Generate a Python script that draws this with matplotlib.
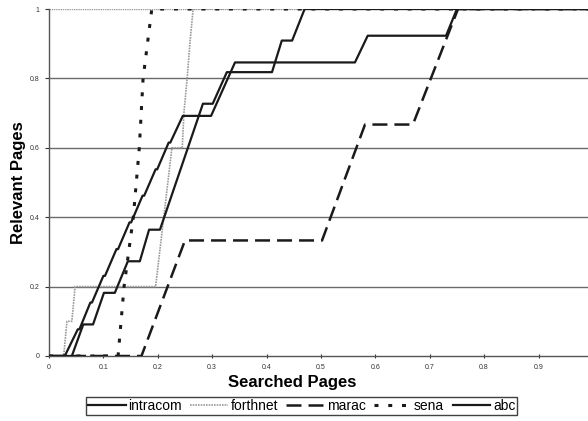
import matplotlib
matplotlib.use("Agg")
import matplotlib.pyplot as plt

# Recall curves: fraction of relevant pages found vs fraction of pages searched
intracom_x = [0.0, 0.029, 0.053, 0.056, 0.076, 0.079, 0.100, 0.103, 0.124, 0.127,
              0.148, 0.151, 0.172, 0.175, 0.196, 0.199, 0.220, 0.223, 0.246, 0.298,
              0.342, 0.5625, 0.586, 0.73, 0.75, 1.0]
intracom_y = [0.0, 0.0, 0.077, 0.077, 0.154, 0.154, 0.231, 0.231, 0.308, 0.308,
              0.385, 0.385, 0.462, 0.462, 0.538, 0.538, 0.615, 0.615, 0.692, 0.692,
              0.846, 0.846, 0.923, 0.923, 1.0, 1.0]

abc_x = [0.0, 0.042, 0.063, 0.081, 0.101, 0.121, 0.145, 0.167, 0.184, 0.204,
         0.283, 0.301, 0.327, 0.41, 0.428, 0.447, 0.47, 1.0]
abc_y = [0.0, 0.0, 0.091, 0.091, 0.182, 0.182, 0.273, 0.273, 0.364, 0.364,
         0.727, 0.727, 0.818, 0.818, 0.909, 0.909, 1.0, 1.0]

forthnet_x = [0.0, 0.027, 0.033, 0.042, 0.048, 0.196, 0.226, 0.245, 0.248, 0.254,
              0.259, 0.265, 1.0]
forthnet_y = [0.0, 0.0, 0.1, 0.1, 0.2, 0.2, 0.6, 0.6, 0.7, 0.8, 0.9, 1.0, 1.0]

marac_x = [0.0, 0.17, 0.25, 0.502, 0.581, 0.669, 0.752, 1.0]
marac_y = [0.0, 0.0, 0.333, 0.333, 0.667, 0.667, 1.0, 1.0]

sena_x = [0.0, 0.127, 0.138, 0.155, 0.166, 0.173, 0.189, 1.0]
sena_y = [0.0, 0.0, 0.2, 0.4, 0.6, 0.8, 1.0, 1.0]

x_ticks = [0, 0.1, 0.2, 0.3, 0.4, 0.5, 0.6, 0.7, 0.8, 0.9]
x_tick_labels = ["0", "0.1", "0.2", "0.3", "0.4", "0.5", "0.6", "0.7", "0.8", "0.9"]
y_ticks = [0, 0.2, 0.4, 0.6, 0.8, 1.0]
y_tick_labels = ["0", "0.2", "0.4", "0.6", "0.8", "1"]

plt.rcParams["font.family"] = ["Liberation Sans", "DejaVu Sans"]

fig = plt.figure(figsize=(5.88, 4.21), dpi=100)
ax = fig.add_axes([49 / 588, 1 - 356 / 421, 1 - 49 / 588, (356 - 9) / 421])

for yv in y_ticks[1:-1]:
    ax.axhline(yv, color="#6a6a6a", lw=1.0, zorder=1)
ax.axhline(y_ticks[-1], color="#9a9a9a", lw=1.0, ls=(0, (1, 0.6)), zorder=1)

ax.plot(intracom_x, intracom_y, color="#1a1a1a", lw=1.6, label="intracom", zorder=3)
ax.plot(forthnet_x, forthnet_y, color="#9a9a9a", lw=1.2, ls=(0, (1, 0.6)),
        label="forthnet", zorder=2)
ax.plot(marac_x, marac_y, color="#1a1a1a", lw=1.8, ls=(0, (6, 2.8)),
        label="marac", zorder=3)
ax.plot(sena_x, sena_y, color="#1a1a1a", lw=2.2, ls=(0, (1.3, 3.2)),
        label="sena", zorder=3)
ax.plot(abc_x, abc_y, color="#1a1a1a", lw=1.6, label="abc", zorder=3)

ax.set_xlim(0, 0.991)
ax.set_ylim(0, 1.0)
ax.set_xticks(x_ticks)
ax.set_xticklabels(x_tick_labels)
ax.set_yticks(y_ticks)
ax.set_yticklabels(y_tick_labels)
ax.tick_params(axis="both", labelsize=5, colors="#333333", length=3, width=0.8,
               pad=4)
ax.tick_params(axis="x", direction="inout")
ax.tick_params(axis="y", direction="out")

for side in ("top", "right"):
    ax.spines[side].set_visible(False)
ax.spines["left"].set_color("#555555")
ax.spines["bottom"].set_color("#555555")
ax.spines["left"].set_linewidth(1.0)
ax.spines["bottom"].set_linewidth(1.0)

fig.text(0.497, 1 - 383 / 421, "Searched Pages", ha="center", va="center",
         fontsize=12, fontweight="bold")
fig.text(0.031, 1 - 183 / 421, "Relevant Pages", ha="center", va="center",
         fontsize=12, fontweight="bold", rotation=90)

leg = fig.legend(loc="center", bbox_to_anchor=(0.513, 1 - 406 / 421), ncol=5,
                 fontsize=10, frameon=True, fancybox=False, handlelength=2.7,
                 handletextpad=0.2, columnspacing=0.6, borderpad=0.15,
                 borderaxespad=0)
leg.get_frame().set_edgecolor("#111111")
leg.get_frame().set_linewidth(1.0)

fig.savefig("out.png", dpi=100)
